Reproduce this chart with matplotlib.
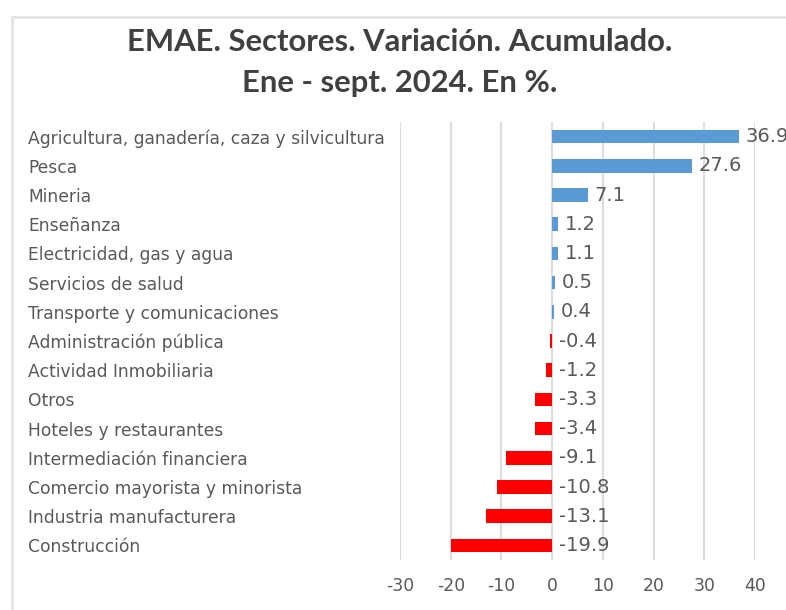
import matplotlib
matplotlib.use("Agg")
import matplotlib.pyplot as plt
from matplotlib.patches import Rectangle
from matplotlib.transforms import offset_copy

categories = [
    "Agricultura, ganadería, caza y silvicultura",
    "Pesca",
    "Mineria",
    "Enseñanza",
    "Electricidad, gas y agua",
    "Servicios de salud",
    "Transporte y comunicaciones",
    "Administración pública",
    "Actividad Inmobiliaria",
    "Otros",
    "Hoteles y restaurantes",
    "Intermediación financiera",
    "Comercio mayorista y minorista",
    "Industria manufacturera",
    "Construcción",
]
values = [36.9, 27.6, 7.1, 1.2, 1.1, 0.5, 0.4, -0.4, -1.2, -3.3, -3.4, -9.1, -10.8, -13.1, -19.9]
xticks = [-30, -20, -10, 0, 10, 20, 30, 40]
title_lines = ["EMAE. Sectores. Variación. Acumulado.", "Ene - sept. 2024. En %."]

W, H = 786, 610
fig = plt.figure(figsize=(W / 100, H / 100), dpi=100)
fig.patch.set_facecolor("white")

# light frame
fig.patches.append(Rectangle((12 / W, -0.1), 1.2, 1 - 17 / H + 0.1, transform=fig.transFigure,
                             fill=False, edgecolor="#E3E3E3", linewidth=2))

ax = fig.add_axes([400 / W, 1 - 560 / H, (755 - 400) / W, (560 - 122) / H])
ax.set_facecolor("none")

pos = list(range(len(categories)))
colors = ["#5B9BD5" if v >= 0 else "#FF0000" for v in values]
ax.barh(pos, values, height=0.47, color=colors, zorder=3)

ax.set_xlim(-30, 40)
ax.set_ylim(len(categories) - 0.5, -0.5)
ax.set_xticks(xticks)
ax.set_xticklabels([str(t) for t in xticks])
ax.grid(axis="x", color="#DDDDDD", linewidth=1.5, zorder=0)
for s in ax.spines.values():
    s.set_visible(False)

labfam = ["DejaVu Sans"]
ax.set_yticks(pos)
ax.set_yticklabels(categories)
ax.tick_params(axis="y", length=0, pad=(400 - 28) * 0.72, labelsize=12.3, labelcolor="#595959")
for lbl in ax.get_yticklabels():
    lbl.set_horizontalalignment("left")
    lbl.set_family(labfam)
ax.tick_params(axis="x", length=0, pad=12, labelsize=12.4, labelcolor="#595959")
for lbl in ax.get_xticklabels():
    lbl.set_family(labfam)

tr = offset_copy(ax.transData, fig=fig, x=4.8, y=0, units="points")
for p, v in zip(pos, values):
    ax.text(max(v, 0), p, f"{v:.1f}", transform=tr, ha="left", va="center",
            fontsize=14.0, color="#595959", family=labfam, clip_on=False)

titlefam = ["Lato", "DejaVu Sans"]
fig.text(400 / W, 1 - 42 / H, title_lines[0], ha="center", va="center",
         fontsize=22.3, fontweight="bold", color="#404040", family=titlefam)
fig.text(400 / W, 1 - 83 / H, title_lines[1], ha="center", va="center",
         fontsize=22.3, fontweight="bold", color="#404040", family=titlefam)

fig.savefig("out.png", dpi=100, facecolor="white")
